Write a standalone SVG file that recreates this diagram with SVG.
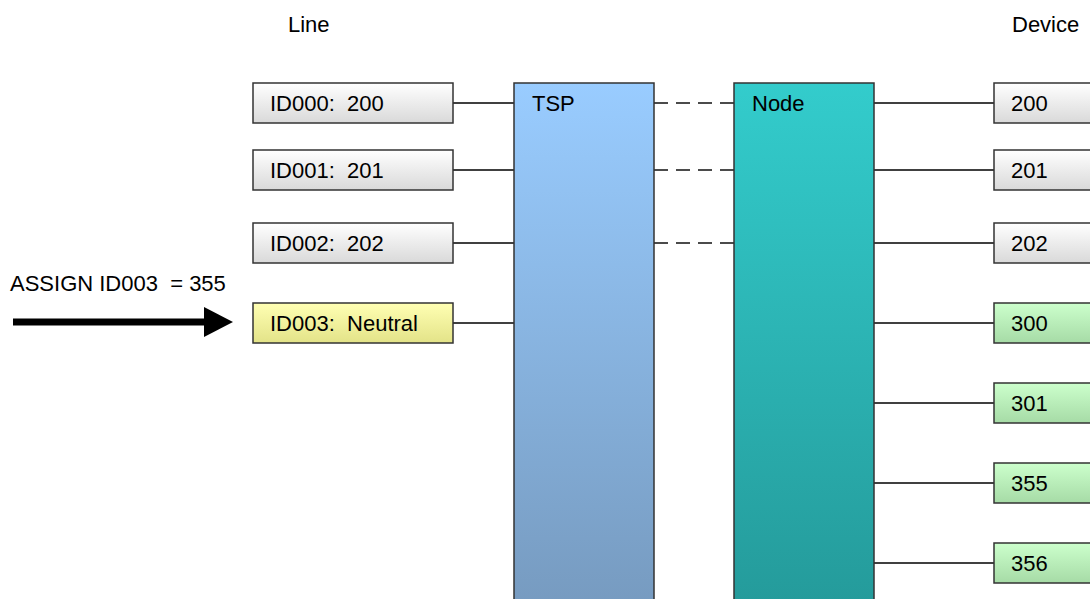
<svg xmlns="http://www.w3.org/2000/svg" width="1090" height="599" viewBox="0 0 1090 599">
<defs>
<linearGradient id="gGray" x1="0" y1="0" x2="0" y2="1"><stop offset="0" stop-color="#ffffff"/><stop offset="1" stop-color="#d9d9d9"/></linearGradient>
<linearGradient id="gYellow" x1="0" y1="0" x2="0" y2="1"><stop offset="0" stop-color="#ffffb3"/><stop offset="1" stop-color="#e3e388"/></linearGradient>
<linearGradient id="gGreen" x1="0" y1="0" x2="0" y2="1"><stop offset="0" stop-color="#ccffcc"/><stop offset="1" stop-color="#a6dba6"/></linearGradient>
<linearGradient id="gTsp" x1="0" y1="0" x2="0" y2="1"><stop offset="0" stop-color="#99ccff"/><stop offset="1" stop-color="#769abf"/></linearGradient>
<linearGradient id="gNode" x1="0" y1="0" x2="0" y2="1"><stop offset="0" stop-color="#33cccc"/><stop offset="1" stop-color="#249a9a"/></linearGradient>
</defs>
<style>
text{font-family:"Liberation Sans",Arial,sans-serif;font-size:22px;fill:#000;white-space:pre}
.box{stroke:#333;stroke-width:1.5}
.ln{stroke:#000;stroke-width:1.5;fill:none}
.dash{stroke:#111;stroke-width:1.6;stroke-dasharray:14,8;fill:none}
</style>
<text x="288" y="32">Line</text>
<text x="1012" y="32">Device</text>
<g id="connectors">
<line class="ln" x1="453" y1="103" x2="514" y2="103"/>
<line class="ln" x1="453" y1="170" x2="514" y2="170"/>
<line class="ln" x1="453" y1="243" x2="514" y2="243"/>
<line class="ln" x1="453" y1="323" x2="514" y2="323"/>
<line class="dash" x1="654" y1="103" x2="734" y2="103"/>
<line class="dash" x1="654" y1="170" x2="734" y2="170"/>
<line class="dash" x1="654" y1="243" x2="734" y2="243"/>
<line class="ln" x1="874" y1="103" x2="994" y2="103"/>
<line class="ln" x1="874" y1="170" x2="994" y2="170"/>
<line class="ln" x1="874" y1="243" x2="994" y2="243"/>
<line class="ln" x1="874" y1="323" x2="994" y2="323"/>
<line class="ln" x1="874" y1="403" x2="994" y2="403"/>
<line class="ln" x1="874" y1="483" x2="994" y2="483"/>
<line class="ln" x1="874" y1="563" x2="994" y2="563"/>
</g>
<g id="assign">
<text x="10" y="291" xml:space="preserve">ASSIGN ID003  = 355</text>
<line x1="13" y1="322" x2="206" y2="322" stroke="#000" stroke-width="7"/>
<polygon points="204,307 233,322 204,337" fill="#000"/>
</g>
<g id="tsp"><rect class="box" x="514" y="83" width="140" height="530" fill="url(#gTsp)"/><text x="532" y="111">TSP</text></g>
<g id="node"><rect class="box" x="734" y="83" width="140" height="530" fill="url(#gNode)"/><text x="752" y="111">Node</text></g>
<g id="id000"><rect class="box" x="253" y="83" width="200" height="40" fill="url(#gGray)"/><text x="270" y="111" xml:space="preserve">ID000:  200</text></g>
<g id="id001"><rect class="box" x="253" y="150" width="200" height="40" fill="url(#gGray)"/><text x="270" y="178" xml:space="preserve">ID001:  201</text></g>
<g id="id002"><rect class="box" x="253" y="223" width="200" height="40" fill="url(#gGray)"/><text x="270" y="251" xml:space="preserve">ID002:  202</text></g>
<g id="id003"><rect class="box" x="253" y="303" width="200" height="40" fill="url(#gYellow)"/><text x="270" y="331" xml:space="preserve">ID003:  Neutral</text></g>
<g id="d200"><rect class="box" x="994" y="83" width="110" height="40" fill="url(#gGray)"/><text x="1011" y="111">200</text></g>
<g id="d201"><rect class="box" x="994" y="150" width="110" height="40" fill="url(#gGray)"/><text x="1011" y="178">201</text></g>
<g id="d202"><rect class="box" x="994" y="223" width="110" height="40" fill="url(#gGray)"/><text x="1011" y="251">202</text></g>
<g id="d300"><rect class="box" x="994" y="303" width="110" height="40" fill="url(#gGreen)"/><text x="1011" y="331">300</text></g>
<g id="d301"><rect class="box" x="994" y="383" width="110" height="40" fill="url(#gGreen)"/><text x="1011" y="411">301</text></g>
<g id="d355"><rect class="box" x="994" y="463" width="110" height="40" fill="url(#gGreen)"/><text x="1011" y="491">355</text></g>
<g id="d356"><rect class="box" x="994" y="543" width="110" height="40" fill="url(#gGreen)"/><text x="1011" y="571">356</text></g>
</svg>
